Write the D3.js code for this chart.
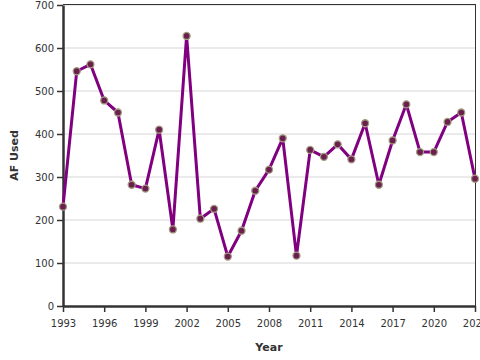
<!DOCTYPE html>
<html><head><meta charset="utf-8">
<script src="https://cdn.jsdelivr.net/npm/d3@7"></script>
<style>body{margin:0;background:#fff}svg{display:block}text{font-family:"DejaVu Sans",sans-serif}</style>
</head><body><svg id="c" width="480" height="360"></svg>
<script>
const years = [1993,1994,1995,1996,1997,1998,1999,2000,2001,2002,2003,2004,2005,2006,2007,2008,2009,2010,2011,2012,2013,2014,2015,2016,2017,2018,2019,2020,2021,2022,2023];
const afUsed = [231,546,562,478,450,282,273,410,178,628,203,226,115,175,268,317,390,117,363,347,376,341,425,282,385,469,358,358,428,450,296];
const xTicks = [1993,1996,1999,2002,2005,2008,2011,2014,2017,2020,2023];
const yTicks = [0,100,200,300,400,500,600,700];

const svg = d3.select("#c");
const m = {l:63, r:475, t:5, b:306};
const x = d3.scaleLinear().domain([1993,2023]).range([m.l,m.r]);
const y = d3.scaleLinear().domain([0,700]).range([m.b,m.t]);

svg.append("g").selectAll("line").data(yTicks.slice(1)).join("line")
  .attr("x1",m.l).attr("x2",m.r).attr("y1",d=>y(d)).attr("y2",d=>y(d))
  .attr("stroke","#d6d6d6").attr("stroke-width",1);
svg.append("line").attr("x1",m.l).attr("x2",m.r).attr("y1",m.t-0.5).attr("y2",m.t-0.5).attr("stroke","#333").attr("stroke-width",1);
svg.append("line").attr("x1",m.r+0.5).attr("x2",m.r+0.5).attr("y1",m.t-1).attr("y2",m.b).attr("stroke","#333").attr("stroke-width",1);

const yAx = svg.append("g").attr("transform",`translate(${m.l},0)`)
  .call(d3.axisLeft(y).tickValues(yTicks).tickSize(6).tickPadding(3).tickSizeOuter(0));
const xAx = svg.append("g").attr("transform",`translate(0,${m.b})`)
  .call(d3.axisBottom(x).tickValues(xTicks).tickFormat(d3.format("d")).tickSize(6).tickPadding(8).tickSizeOuter(0));
[yAx,xAx].forEach(a=>{
  a.select(".domain").attr("stroke","#333").attr("stroke-width",2.5);
  a.selectAll(".tick line").attr("stroke","#333").attr("stroke-width",1.5);
  a.selectAll("text").attr("fill","#333").style("font-size","10px").style("font-family","DejaVu Sans");
});

const line = d3.line().x((d,i)=>x(years[i])).y(d=>y(d));
svg.append("path").datum(afUsed).attr("d",line).attr("fill","none")
  .attr("stroke","#800080").attr("stroke-width",3).attr("stroke-linejoin","round");
svg.append("g").selectAll("circle").data(afUsed).join("circle")
  .attr("cx",(d,i)=>x(years[i])).attr("cy",d=>y(d)).attr("r",3.5)
  .attr("fill","#6b1f4e").attr("stroke","#a39c80").attr("stroke-width",1.3);

svg.append("text").attr("x",(m.l+m.r)/2).attr("y",351).attr("text-anchor","middle")
  .style("font-size","11px").style("font-weight","bold").attr("fill","#333").text("Year");
svg.append("text").attr("transform",`translate(18,${(m.t+m.b)/2}) rotate(-90)`).attr("text-anchor","middle")
  .style("font-size","11px").style("font-weight","bold").attr("fill","#333").text("AF Used");
</script></body></html>
